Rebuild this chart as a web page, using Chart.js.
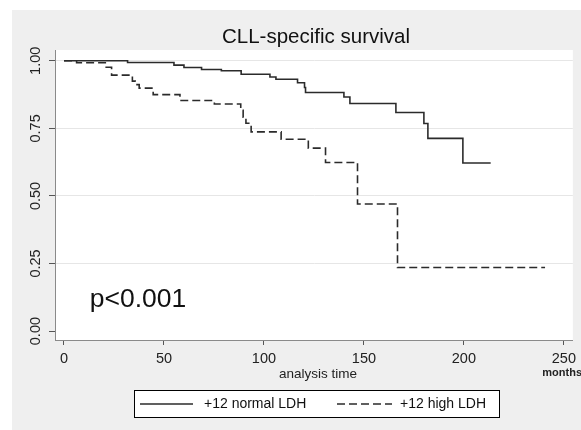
<!DOCTYPE html>
<html>
<head>
<meta charset="utf-8">
<title>CLL-specific survival</title>
<script src="https://cdn.jsdelivr.net/npm/chart.js@4.4.0/dist/chart.umd.min.js"></script>
<style>
  html, body { margin: 0; padding: 0; background: #fff; }
  canvas { display: block; }
</style>
</head>
<body>
<canvas id="km" width="581" height="430"></canvas>
<script>
/* ─── DATA ─── */
const normalTimes = [0, 31.8, 55, 60, 68.8, 78.7, 88.6, 103, 106, 116.8, 120.3, 120.8, 140, 143, 166, 180, 182, 199.5, 213.4];
const normalSurv  = [1, 0.994, 0.984, 0.975, 0.968, 0.963, 0.950, 0.940, 0.932, 0.919, 0.901, 0.883, 0.866, 0.842, 0.809, 0.768, 0.713, 0.622, 0.622];
const highTimes   = [0, 6.3, 21.1, 23.8, 34.2, 35.6, 37.6, 44.6, 58, 75.2, 88.4, 89.6, 91, 93.6, 108.6, 122.2, 130.8, 146.8, 166.8, 240.6];
const highSurv    = [1, 0.993, 0.976, 0.947, 0.925, 0.912, 0.899, 0.875, 0.853, 0.840, 0.817, 0.791, 0.769, 0.737, 0.710, 0.677, 0.624, 0.470, 0.235, 0.235];
const xTicks = [0, 50, 100, 150, 200, 250];
const yTicks = [0, 0.25, 0.5, 0.75, 1];
const yTickLabels = ['0.00', '0.25', '0.50', '0.75', '1.00'];
const seriesNames = ['+12 normal LDH', '+12 high LDH'];
const titleText = 'CLL-specific survival';
const xTitle = 'analysis time';
const xUnit = 'months';
const pText = 'p<0.001';

const FONT = "'Liberation Sans', Arial, sans-serif";
const INK = '#2b2b2b';

const toPoints = (ts, ss) => ts.map((t, i) => ({ x: t, y: ss[i] }));

/* ─── Stata-like frame, labels and legend ─── */
const stataFrame = {
  id: 'stataFrame',
  beforeDraw(chart) {
    const { ctx, chartArea: a } = chart;
    ctx.save();
    ctx.fillStyle = '#fff';
    ctx.fillRect(0, 0, chart.width, chart.height);
    ctx.fillStyle = '#efefef';
    ctx.fillRect(12, 10, chart.width - 12, chart.height - 10);
    ctx.fillStyle = '#fff';
    ctx.fillRect(a.left, a.top, a.right - a.left, a.bottom - a.top);
    ctx.restore();
  },
  afterDraw(chart) {
    const { ctx } = chart;
    const xs = chart.scales.x, ys = chart.scales.y;
    ctx.save();
    ctx.fillStyle = '#111';

    // title
    ctx.font = `20.5px ${FONT}`;
    ctx.textAlign = 'center';
    ctx.textBaseline = 'middle';
    ctx.fillText(titleText, 316, 37);

    // rotated y tick labels
    ctx.font = `14.5px ${FONT}`;
    ctx.fillStyle = '#222';
    yTicks.forEach((v, i) => {
      ctx.save();
      ctx.translate(36, ys.getPixelForValue(v));
      ctx.rotate(-Math.PI / 2);
      ctx.fillText(yTickLabels[i], 0, 0);
      ctx.restore();
    });

    // axis title + unit
    ctx.font = `13.5px ${FONT}`;
    ctx.fillText(xTitle, 318, 374);
    ctx.font = `bold 11px ${FONT}`;
    ctx.textAlign = 'right';
    ctx.fillText(xUnit, 582, 373);

    // p value
    ctx.font = `26.5px ${FONT}`;
    ctx.textAlign = 'left';
    ctx.fillStyle = '#111';
    ctx.fillText(pText, xs.getPixelForValue(12.9), ys.getPixelForValue(0.118));

    // legend box
    ctx.fillStyle = '#fff';
    ctx.fillRect(134.5, 390.5, 365, 27);
    ctx.strokeStyle = '#000';
    ctx.lineWidth = 1;
    ctx.strokeRect(134.5, 390.5, 365, 27);
    const items = [{ x0: 140, x1: 193, tx: 204 }, { x0: 337, x1: 392, tx: 400 }];
    chart.data.datasets.forEach((ds, i) => {
      const it = items[i];
      ctx.strokeStyle = INK;
      ctx.lineWidth = 1.6;
      ctx.setLineDash(ds.borderDash || []);
      ctx.beginPath();
      ctx.moveTo(it.x0, 404);
      ctx.lineTo(it.x1, 404);
      ctx.stroke();
      ctx.setLineDash([]);
      ctx.fillStyle = '#111';
      ctx.font = `14px ${FONT}`;
      ctx.textBaseline = 'middle';
      ctx.fillText(ds.label, it.tx, 404);
    });
    ctx.restore();
  }
};

new Chart(document.getElementById('km'), {
  type: 'line',
  data: {
    datasets: [
      {
        label: seriesNames[0],
        data: toPoints(normalTimes, normalSurv),
        borderColor: INK,
        borderWidth: 1.6,
        pointRadius: 0,
        stepped: 'before',
        fill: false
      },
      {
        label: seriesNames[1],
        data: toPoints(highTimes, highSurv),
        borderColor: INK,
        borderWidth: 1.6,
        borderDash: [8, 4],
        pointRadius: 0,
        stepped: 'before',
        fill: false
      }
    ]
  },
  options: {
    responsive: false,
    devicePixelRatio: 1,
    animation: false,
    layout: { padding: { top: 50, right: 3, left: 0, bottom: 0 } },
    plugins: { legend: { display: false }, title: { display: false }, tooltip: { enabled: false } },
    scales: {
      x: {
        type: 'linear',
        min: -4.5,
        max: 254.5,
        afterBuildTicks: s => { s.ticks = xTicks.map(v => ({ value: v })); },
        afterFit: s => { s.height = 90; },
        grid: { drawOnChartArea: false, drawTicks: true, tickLength: 5, tickColor: '#555' },
        border: { display: true, color: '#8a8a8a', width: 1 },
        ticks: { font: { family: FONT, size: 14.5 }, color: '#222', padding: 5, maxRotation: 0, autoSkip: false }
      },
      y: {
        type: 'linear',
        min: -0.033,
        max: 1.04,
        afterBuildTicks: s => { s.ticks = yTicks.map(v => ({ value: v })); },
        afterFit: s => { s.width = 55; },
        grid: {
          color: c => (c.tick && c.tick.value === 0 ? 'rgba(0,0,0,0)' : '#e6e6e6'),
          tickColor: '#555',
          tickLength: 6,
          drawTicks: true
        },
        border: { display: true, color: '#8a8a8a', width: 1 },
        ticks: { display: false }
      }
    }
  },
  plugins: [stataFrame]
});
</script>
</body>
</html>
